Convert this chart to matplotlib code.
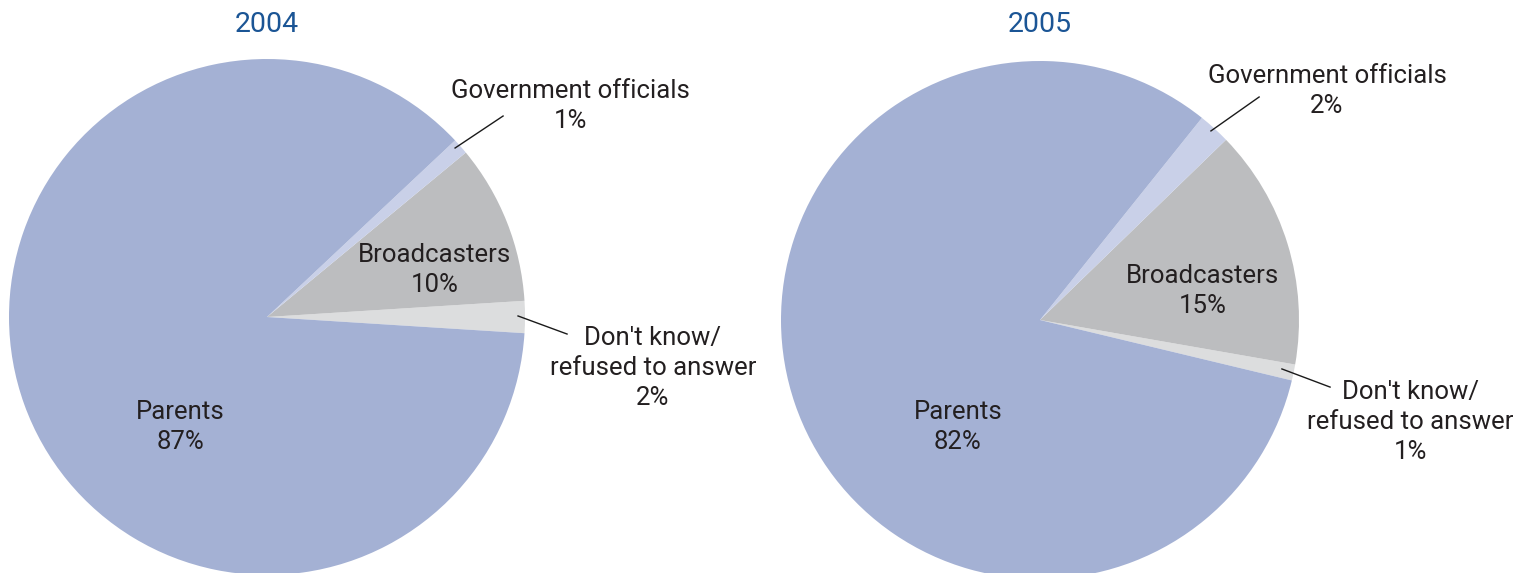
import matplotlib
matplotlib.use("Agg")
import matplotlib.pyplot as plt

plt.rcParams['font.family'] = ['Roboto', 'DejaVu Sans']

years = ["2004", "2005"]
categories = ["Don't know/\nrefused to answer", "Broadcasters", "Government officials", "Parents"]
share_2004 = [2, 10, 1, 87]
share_2005 = [1, 15, 2, 82]
shares = [share_2004, share_2005]

colors = ["#DCDDDE", "#BCBDBF", "#C9D0E8", "#A4B1D4"]
title_color = "#1B5595"
text_color = "#231F20"

W, H = 1514, 573
fig = plt.figure(figsize=(W / 100, H / 100), dpi=100)

# pie placement in pixels: (centre x, centre y from top, radius)
geom = [(267, 317, 258), (1040, 320, 259)]
start_angles = [-3.6, -13.5]

# label placement (data coords, radius = 1) and leader lines
inner_pos = [
    {"Parents": (-0.337, -0.427), "Broadcasters": (0.651, 0.182)},
    {"Parents": (-0.317, -0.413), "Broadcasters": (0.629, 0.112)},
]
outer_pos = [
    {"Government officials": ((1.178, 0.818), [(0.729, 0.655), (0.915, 0.779)]),
     "Don't know/\nrefused to answer": ((1.496, -0.198), [(0.973, 0.004), (1.163, -0.066)])},
    {"Government officials": ((1.108, 0.884), [(0.66, 0.73), (0.846, 0.861)]),
     "Don't know/\nrefused to answer": ((1.429, -0.394), [(0.934, -0.189), (1.12, -0.259)])},
]

fs = 18.5
ls = 1.33
for i, (year, vals) in enumerate(zip(years, shares)):
    cx, cy, r = geom[i]
    ax = fig.add_axes([(cx - r) / W, (H - cy - r) / H, 2 * r / W, 2 * r / H])
    ax.axis("off")
    wedges, _ = ax.pie(vals, colors=colors, startangle=start_angles[i], counterclock=True,
                       radius=1, center=(0, 0), frame=False,
                       wedgeprops=dict(linewidth=0))
    for w in wedges:
        w.set_clip_on(False)
    ax.set_xlim(-1, 1)
    ax.set_ylim(-1, 1)
    ax.set_aspect("auto")

    for cat, val in zip(categories, vals):
        if cat in inner_pos[i]:
            x, y = inner_pos[i][cat]
            ax.text(x, y, f"{cat}\n{val}%", ha="center", va="center",
                    fontsize=fs, color=text_color, linespacing=ls, clip_on=False)
        else:
            (x, y), line = outer_pos[i][cat]
            ax.text(x, y, f"{cat}\n{val}%", ha="center", va="center",
                    fontsize=fs, color=text_color, linespacing=ls, clip_on=False)
            ax.plot([line[0][0], line[1][0]], [line[0][1], line[1][1]],
                    color="#1A1A1A", lw=1.0, clip_on=False)

    fig.text(cx / W, 1 - 25 / H, year, ha="center", va="center",
             fontsize=20.5, color=title_color)

fig.savefig("out.png", dpi=100)
